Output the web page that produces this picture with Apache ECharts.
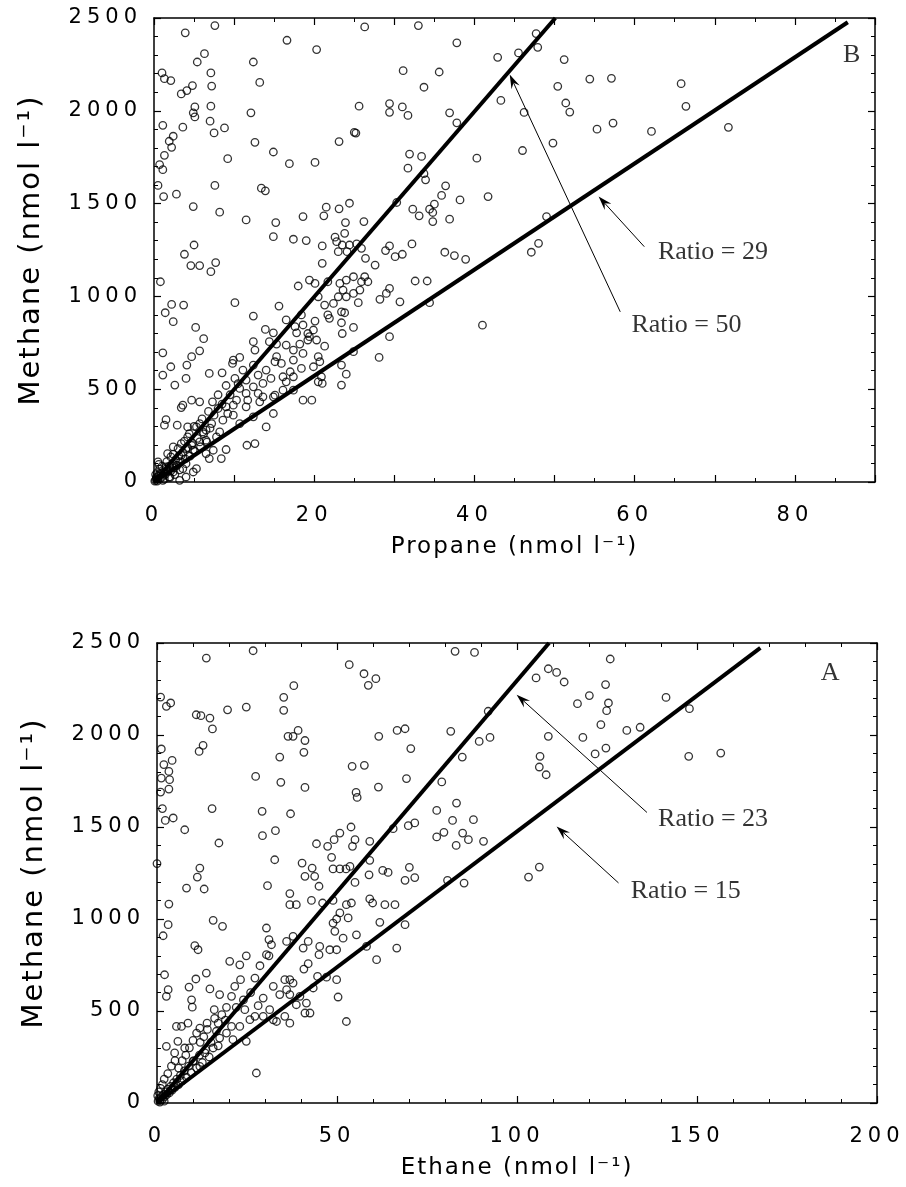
<!DOCTYPE html>
<html>
<head>
<meta charset="utf-8">
<title>Methane against propane and ethane</title>
<script src="https://cdn.jsdelivr.net/npm/echarts@6/dist/echarts.min.js"></script>
<style>
  html, body { margin: 0; background: #fff; }
  #main { width: 906px; height: 1187px; }
</style>
</head>
<body>
<div id="main"></div>
<script>
// panel B (top): propane vs methane, nmol/l
var propanePoints = [
  [3.9,2420],[7.6,2459],[16.6,2380],[20.3,2330],[26.3,2452],[33.0,2459],[37.8,2366],
  [6.3,2308],[5.4,2263],[12.4,2263],[13.2,2153],[31.1,2216],[35.6,2209],[33.7,2127],
  [1.0,2204],[1.3,2173],[2.1,2163],[3.4,2091],[4.1,2109],[4.8,2136],[7.1,2204],[7.2,2133],
  [5.1,2021],[4.9,1989],[5.1,1967],[7.1,2025],[7.0,1944],[7.5,1881],[8.8,1908],[12.1,1989],
  [25.6,2025],[29.4,2039],[29.4,1992],[31.0,2021],[31.7,1975],[36.9,1989],[37.8,1935],
  [1.1,1922],[3.6,1912],[2.4,1863],[1.9,1836],[2.2,1803],[1.3,1760],[0.7,1710],[1.1,1683],
  [9.2,1742],[12.6,1830],[14.9,1778],[16.9,1715],[20.1,1722],[23.1,1834],[25.0,1884],[25.2,1880],
  [31.9,1767],[33.4,1754],[31.7,1691],[33.7,1661],[33.9,1628],[36.4,1596],[35.9,1544],[38.2,1520],
  [0.5,1598],[1.2,1538],[2.8,1551],[7.6,1598],[13.4,1583],[13.9,1569],[4.9,1484],[8.2,1454],
  [11.5,1412],[15.2,1398],[18.6,1430],[21.5,1481],[21.2,1434],[23.1,1472],[24.4,1502],[26.2,1403],
  [23.9,1398],[30.3,1506],[32.3,1470],[33.1,1434],[34.4,1470],[35.0,1497],[34.8,1452],[34.8,1403],
  [36.9,1416],[36.3,1238],[37.5,1220],[3.8,1227],[5.0,1277],[4.6,1166],[5.7,1166],[7.1,1133],
  [7.7,1182],[0.8,1079],[14.9,1322],[17.4,1308],[19.0,1301],[21.0,1272],[22.6,1319],[23.8,1340],
  [22.8,1295],[23.5,1277],[24.4,1277],[25.3,1283],[25.9,1259],[23.0,1241],[24.1,1241],[26.4,1205],
  [27.6,1169],[21.0,1178],[28.9,1247],[29.4,1272],[30.1,1214],[31.0,1227],[32.2,1283],
  [18.0,1056],[19.4,1088],[20.1,1070],[21.7,1079],[23.2,1070],[24.0,1088],[24.9,1106],[25.9,1079],
  [26.3,1106],[26.7,1079],[32.6,1083],[34.1,1083],
  [42.9,2288],[45.5,2312],[47.7,2416],[47.9,2342],[51.2,2276],[54.4,2171],[57.1,2175],[50.4,2132],
  [51.4,2042],[51.9,1993],[43.3,2056],[46.2,1991],[55.3,1901],[57.3,1934],[62.1,1889],[65.8,2146],
  [66.4,2024],[71.7,1911],[49.8,1826],[46.0,1786],[40.3,1745],[41.7,1538],[49.0,1430],[38.9,1200],
  [47.1,1238],[48.0,1286],[41.0,845],
  [2.2,957],[3.7,953],[1.4,912],[2.4,864],[5.2,833],[6.2,772],[5.7,707],[4.7,675],[1.1,696],
  [2.1,621],[1.1,576],[2.6,522],[4.0,558],[4.1,630],[6.9,585],[8.5,588],[10.1,966],[12.4,894],
  [13.9,822],[14.9,804],[15.6,948],[18.4,900],[20.5,998],[21.3,953],[21.7,900],[21.9,882],
  [23.0,998],[23.6,1034],[24.0,998],[24.9,1016],[25.7,1034],[25.5,966],[23.4,917],[23.8,912],
  [23.4,858],[24.9,833],[23.5,800],[28.2,984],[29.0,1016],[29.4,1043],[30.7,971],[34.4,966],
  [29.4,783],[28.1,671],[17.8,804],[18.6,846],[19.2,800],[19.9,819],[20.1,867],[19.2,765],
  [20.3,765],[21.3,732],[18.2,743],[17.4,711],[16.5,738],[15.3,743],[14.4,756],[12.4,756],
  [12.6,711],[9.9,657],[10.7,671],[9.8,639],[12.4,630],[15.3,675],[15.1,648],[15.9,639],
  [17.4,657],[18.6,693],[19.9,621],[20.5,675],[20.9,567],[20.7,648],[23.4,630],[24.0,581],
  [23.4,522],[21.0,531],[20.5,540],[18.6,441],[19.7,441],[17.4,495],[16.1,495],[15.1,468],
  [13.6,459],[13.0,477],[11.5,477],[10.7,504],[11.7,441],[13.2,432],[14.9,369],[14.0,297],
  [12.6,207],[11.6,198],[12.4,351],[10.7,315],[9.9,360],[9.2,369],[8.6,333],[8.2,270],
  [9.0,405],[9.9,414],[10.3,441],[11.5,405],[8.0,396],[7.3,432],[5.7,432],[4.7,441],
  [3.6,414],[3.4,401],[1.5,336],[1.3,306],[2.9,306],[5.3,297],[6.5,279],[7.2,315],
  [7.8,243],[6.1,270],[4.2,243],[3.4,207],[2.4,189],[1.7,153],[0.5,108],[2.1,135],
  [3.4,144],[4.9,171],[6.5,153],[7.4,171],[8.4,126],[9.0,175],[6.9,126],[5.3,72],
  [4.9,54],[4.0,27],[3.2,9],[2.4,54],[1.5,81],[0.7,45],[0.3,18],[1.1,9],[1.9,27],
  [2.8,90],[4.0,99],[3.6,72],[5.7,216],[4.7,198],[4.0,180],[6.5,225],[5.7,315],[4.2,297],
  [11.5,549],[12.4,513],[13.0,576],[14.0,603],[14.6,558],[13.6,531],[14.9,459],[16.1,567],
  [17.0,594],[17.4,567],[18.4,612],[16.5,540],[11.1,603],[10.1,558],[17.6,837],[16.5,873],
  [19.4,783],[24.9,702],[22.4,962],
  [0.2,10],[0.3,25],[0.5,15],[0.6,35],[0.8,20],[0.9,45],[1.1,30],[1.2,55],[1.4,40],[1.5,70],
  [1.7,55],[1.9,85],[2.1,60],[2.3,100],[2.5,75],[2.7,120],[2.9,90],[3.1,140],[3.3,110],[3.6,160],
  [3.9,125],[4.2,185],[4.5,140],[4.8,210],[5.1,165],[5.4,235],[5.8,190],[6.2,260],[6.6,215],
  [7.0,290],[0.4,50],[0.7,70],[1.0,85],[0.2,40],[0.1,5],[0.4,5],[1.3,15],[2.0,25],[2.6,40],
  [3.2,65],[0.6,95],[1.6,110],[2.4,150],[3.0,180],[3.8,220],[4.4,260],[5.0,300],[6.0,340],
  [7.5,360],[8.5,420],[9.5,470],[10.5,530],[6.8,380],[8.0,470],[9.0,520]
];
// ratio lines, end points as drawn
var propaneLines = [[[0,0],[50.1,2500]], [[0,0],[86.6,2477]]];
// arrows: tail x, tail y, head x, head y
var propaneArrows = [[58.2,917,44.4,2195], [61.2,1268,55.5,1538]];
var propaneNotes = [
  {name: 'Ratio = 50', value: [59.6,846]},
  {name: 'Ratio = 29', value: [62.9,1240]},
  {name: 'B', value: [87.1,2302], label: {position: 'inside'}}
];
var propaneTicks = [0,20,40,60,80];

// panel A (bottom): ethane vs methane
var ethanePoints = [
  [26.7,2458],[13.7,2418],[53.4,2382],[57.5,2333],[58.7,2270],[60.8,2306],[38.0,2268],[35.2,2205],
  [35.2,2134],[1.0,2206],[2.6,2156],[3.8,2174],[10.9,2110],[12.2,2105],[14.7,2092],[15.4,2033],
  [19.6,2137],[24.8,2152],[66.7,2025],[68.9,2034],[81.6,2020],[36.4,1993],[37.8,1993],[39.2,2025],
  [41.1,1970],[40.8,1906],[11.7,1911],[12.8,1944],[1.2,1924],[1.9,1839],[4.2,1862],[3.3,1802],
  [1.2,1766],[3.5,1757],[1.0,1690],[3.3,1706],[1.5,1600],[2.3,1536],[4.5,1549],[7.7,1485],
  [15.3,1600],[17.2,1413],[27.4,1775],[34.1,1880],[34.4,1743],[41.1,1715],[54.2,1830],[57.6,1835],
  [61.6,1993],[61.5,1717],[70.5,1926],[69.3,1763],[79.1,1745],[83.2,1630],[29.2,1585],[37.1,1572],
  [32.9,1480],[29.3,1453],[55.3,1688],[55.6,1661],[77.7,1590],[82.1,1536],[69.8,1507],[71.6,1522],
  [77.7,1446],[79.7,1471],[83.1,1400],[65.6,1491],[53.9,1500],[55.0,1431],[50.8,1467],[49.2,1431],
  [44.3,1409],[47.4,1395],[54.3,1395],[48.5,1335],[59.1,1422],[59.1,1319],[0.0,1301],[11.9,1277],
  [11.2,1228],[13.1,1163],[8.2,1168],[30.7,1181],[32.7,1322],[40.3,1304],[41.1,1232],[43.8,1232],
  [43.1,1277],[45.0,1178],[48.9,1272],[50.8,1272],[52.5,1272],[53.6,1286],[55.0,1199],[58.9,1240],
  [62.7,1264],[64.2,1253],[70.1,1281],[68.9,1210],[71.6,1225],[80.7,1210],[3.3,1081],[36.9,1138],
  [36.9,1078],[38.7,1078],[42.9,1101],[46.0,1087],[48.9,1101],[52.6,1078],[54.0,1087],[59.1,1109],
  [59.9,1087],[63.3,1078],[66.1,1078],
  [82.8,2455],[88.2,2449],[125.9,2413],[108.7,2360],[111.0,2340],[113.1,2288],[105.3,2310],
  [124.6,2274],[116.8,2170],[120.1,2214],[125.4,2174],[124.9,2132],[141.4,2204],[147.9,2143],
  [92.0,2129],[89.5,1965],[92.5,1987],[84.8,1880],[108.7,1993],[118.3,1987],[123.3,2056],
  [130.5,2025],[134.2,2042],[121.7,1897],[124.7,1929],[106.4,1884],[106.2,1826],[108.1,1784],
  [147.7,1884],[156.6,1902],[87.9,1540],[84.9,1467],[86.5,1431],[90.7,1422],[103.2,1228],
  [106.2,1282],[85.3,1195],
  [3.1,969],[1.7,909],[15.6,993],[18.2,960],[10.5,855],[11.4,833],[30.4,951],[31.1,888],
  [31.8,860],[30.4,806],[36.0,878],[37.8,906],[48.9,978],[49.4,933],[50.8,1033],[49.9,1000],
  [53.1,1006],[55.4,914],[61.9,982],[66.6,842],[68.9,969],[61.0,779],[58.2,851],[48.0,833],
  [49.9,833],[51.7,896],[45.2,851],[45.0,806],[42.0,878],[40.6,842],[2.1,697],[3.1,616],
  [2.6,580],[8.9,630],[10.8,674],[13.7,706],[9.6,561],[9.8,521],[14.7,620],[17.4,589],
  [20.2,770],[23.0,751],[24.8,800],[28.6,746],[31.1,800],[27.2,679],[23.2,670],[21.6,634],
  [20.7,580],[19.3,520],[15.9,507],[17.0,434],[13.9,434],[11.9,407],[8.6,434],[5.4,416],
  [6.8,416],[5.8,335],[2.6,308],[4.9,272],[7.7,299],[24.8,335],[27.6,163],[49.9,670],
  [50.3,576],[52.6,443],[47.1,684],[44.6,688],[43.4,625],[40.8,728],[42.0,757],[39.7,580],
  [37.8,652],[36.9,670],[35.5,670],[36.0,616],[32.3,634],[34.1,589],[29.5,570],[28.1,529],
  [31.3,507],[32.3,452],[33.2,443],[36.9,589],[38.7,534],[41.5,543],[42.5,489],[41.1,489],
  [36.9,434],[35.5,471],[29.5,471],[27.2,471],[25.8,453],[24.4,507],[23.0,416],[19.3,380],
  [21.1,344],[17.4,353],[15.6,299],[13.3,272],[11.9,199],[10.0,226],[17.0,311],[20.7,416],
  [0.3,10],[0.6,25],[0.9,15],[1.2,35],[1.5,20],[1.8,45],[2.1,35],[2.4,60],[2.7,45],[3.0,75],
  [3.4,55],[3.8,90],[4.2,70],[4.6,110],[5.0,85],[5.5,130],[6.0,100],[6.5,150],[7.0,120],
  [7.6,175],[8.2,140],[8.8,200],[9.5,165],[10.2,230],[11.0,190],[11.8,260],[12.6,220],
  [13.5,290],[14.5,250],[0.5,60],[1.0,80],[1.5,100],[2.0,130],[3.0,160],[4.0,200],[5.0,230],
  [0.2,40],[0.8,5],[2.0,10],[6.0,190],[7.0,230],[8.0,260],[9.0,300],[10.0,340],[11.0,380],
  [12.0,330],[13.0,360],[14.0,400],[16.0,460],[18.0,480],[15.0,330],[16.5,390],[19.0,450],
  [22.0,520],[24.0,560],[26.0,600]
];
var ethaneLines = [[[0,0],[108.9,2500]], [[0,0],[167.6,2473]]];
var ethaneArrows = [[136.1,1579,99.9,2219], [128.2,1196,111.0,1503]];
var ethaneNotes = [
  {name: 'Ratio = 23', value: [139.2,1544]},
  {name: 'Ratio = 15', value: [131.6,1150]},
  {name: 'A', value: [187.0,2337], label: {position: 'inside'}}
];
var ethaneTicks = [0,50,100,150,200];
var methaneTicks = [0,500,1000,1500,2000,2500];

// the old plotter spread its sans lettering out; canvas can do that, echarts can't
var spacing = {'21': '5px', '23': '2px', '29': '2px'};
var fillText = CanvasRenderingContext2D.prototype.fillText;
CanvasRenderingContext2D.prototype.fillText = function (text, x, y, maxWidth) {
  var m = /(\d+)px/.exec(this.font);
  this.letterSpacing = (m && this.font.indexOf('DejaVu') >= 0 && spacing[m[1]]) || '0px';
  if (arguments.length > 3) return fillText.call(this, text, x, y, maxWidth);
  return fillText.call(this, text, x, y);
};

var black = '#000';
var sans = 'DejaVu Sans';

function xAxes(g, max, step, minor, ticks, name) {
  var base = {
    gridIndex: g, type: 'value', min: 0, max: max, interval: step,
    axisLine: {onZero: false, lineStyle: {color: black, width: 1.5}},
    axisTick: {inside: true, length: 7, lineStyle: {color: black, width: 1.2}},
    minorTick: {show: true, splitNumber: minor, length: 4, lineStyle: {color: black, width: 1}},
    splitLine: {show: false}
  };
  var bottom = Object.assign({}, base, {
    position: 'bottom',
    name: name, nameLocation: 'middle', nameGap: 54,
    nameTextStyle: {fontFamily: sans, fontSize: 23, color: black},
    axisLabel: {
      margin: 23, fontFamily: sans, fontSize: 21, color: black,
      formatter: function (v) { return ticks.indexOf(v) >= 0 ? String(v) : ''; }
    }
  });
  var top = Object.assign({}, base, {position: 'top', axisLabel: {show: false}});
  return [bottom, top];
}

function yAxes(g) {
  var base = {
    gridIndex: g, type: 'value', min: 0, max: 2500, interval: 500,
    axisLine: {onZero: false, lineStyle: {color: black, width: 1.5}},
    axisTick: {inside: true, length: 7, lineStyle: {color: black, width: 1.2}},
    minorTick: {show: true, splitNumber: 5, length: 4, lineStyle: {color: black, width: 1}},
    splitLine: {show: false}
  };
  var left = Object.assign({}, base, {
    position: 'left',
    name: 'Methane (nmol l\u207B\u00B9)', nameLocation: 'middle', nameRotate: 90, nameGap: 108,
    nameTextStyle: {fontFamily: sans, fontSize: 29, color: black},
    axisLabel: {
      margin: 12, fontFamily: sans, fontSize: 21, color: black,
      formatter: function (v) { return methaneTicks.indexOf(v) >= 0 ? String(v) : ''; }
    }
  });
  var right = Object.assign({}, base, {position: 'right', axisLabel: {show: false}});
  return [left, right];
}

function arrow(params, api) {
  var a = api.coord([api.value(0), api.value(1)]);
  var b = api.coord([api.value(2), api.value(3)]);
  var dx = b[0] - a[0], dy = b[1] - a[1];
  var len = Math.sqrt(dx * dx + dy * dy);
  var ux = dx / len, uy = dy / len;
  var px = -uy, py = ux;
  var back = 14, notch = 9, half = 4.5;
  return {
    type: 'group',
    children: [
      {type: 'line', shape: {x1: a[0], y1: a[1], x2: b[0] - ux * notch, y2: b[1] - uy * notch},
       style: {stroke: black, lineWidth: 1}},
      {type: 'polygon', shape: {points: [
        b,
        [b[0] - ux * back + px * half, b[1] - uy * back + py * half],
        [b[0] - ux * notch, b[1] - uy * notch],
        [b[0] - ux * back - px * half, b[1] - uy * back - py * half]
      ]}, style: {fill: black}}
    ]
  };
}

function panelSeries(g, points, lines, arrows, notes) {
  var list = [{
    type: 'scatter', xAxisIndex: g * 2, yAxisIndex: g * 2, data: points,
    symbol: 'circle', symbolSize: 7.5, silent: true,
    itemStyle: {color: 'rgba(0,0,0,0)', borderColor: black, borderWidth: 1.3}
  }];
  lines.forEach(function (l) {
    list.push({
      type: 'line', xAxisIndex: g * 2, yAxisIndex: g * 2, data: l, symbol: 'none',
      silent: true, z: 3, lineStyle: {color: black, width: 4}
    });
  });
  list.push({
    type: 'custom', xAxisIndex: g * 2, yAxisIndex: g * 2, data: arrows,
    renderItem: arrow, silent: true, z: 4
  });
  list.push({
    type: 'scatter', xAxisIndex: g * 2, yAxisIndex: g * 2, data: notes,
    symbolSize: 0, silent: true, z: 5,
    label: {
      show: true, position: 'right', distance: 0, formatter: '{b}',
      fontFamily: 'Liberation Serif', fontSize: 26, color: black
    }
  });
  return list;
}

var chart = echarts.init(document.getElementById('main'));
chart.setOption({
  animation: false,
  backgroundColor: '#fff',
  grid: [
    {left: 154, top: 18, width: 721, height: 464},
    {left: 157, top: 643, width: 720, height: 460}
  ],
  xAxis: xAxes(0, 90, 10, 2, propaneTicks, 'Propane (nmol l\u207B\u00B9)')
    .concat(xAxes(1, 200, 50, 5, ethaneTicks, 'Ethane (nmol l\u207B\u00B9)')),
  yAxis: yAxes(0).concat(yAxes(1)),
  series: panelSeries(0, propanePoints, propaneLines, propaneArrows, propaneNotes)
    .concat(panelSeries(1, ethanePoints, ethaneLines, ethaneArrows, ethaneNotes))
});
</script>
</body>
</html>
